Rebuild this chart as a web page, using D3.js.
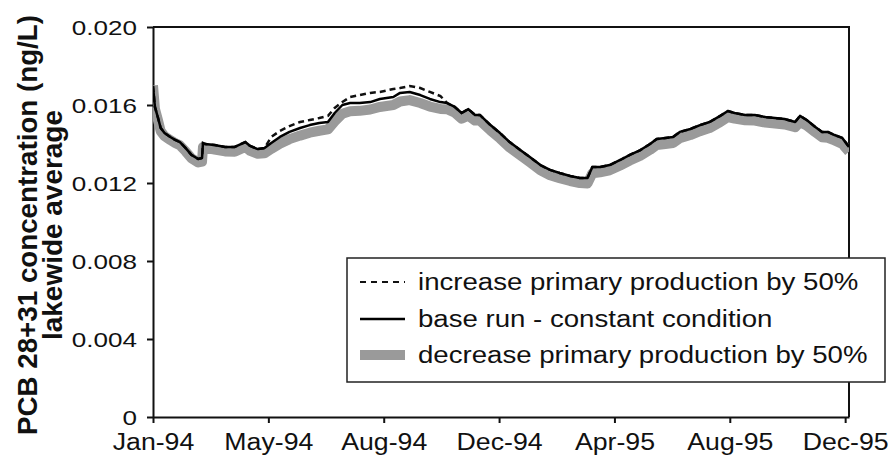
<!DOCTYPE html>
<html><head><meta charset="utf-8">
<script src="https://cdn.jsdelivr.net/npm/d3@7"></script>
<style>body{margin:0;background:#fff}svg{display:block}</style>
</head><body>
<svg id="c" width="888" height="462"></svg>
<script>
// Day offsets from 1 Jan 1994
const days = [0,2,5,8,12,18,23,28,34,40,47,51,52,54,64,75,85,96,101,109,116,123,132,142,153,163,173,182,189,197,205,215,226,236,250,257,267,278,288,299,306,314,321,328,335,340,351,361,371,382,392,403,413,423,434,444,452,457,465,475,486,496,507,517,524,533,541,548,559,569,579,590,598,605,616,626,637,647,657,668,673,680,689,696,702,709,717,724];
const baseRun = [0.01697,0.01590,0.01538,0.01482,0.01456,0.01436,0.01421,0.01410,0.01379,0.01344,0.01323,0.01328,0.01405,0.01400,0.01395,0.01385,0.01385,0.01410,0.01390,0.01374,0.01379,0.01405,0.01436,0.01462,0.01482,0.01497,0.01508,0.01513,0.01559,0.01600,0.01610,0.01610,0.01615,0.01631,0.01641,0.01662,0.01667,0.01651,0.01631,0.01615,0.01610,0.01590,0.01559,0.01579,0.01549,0.01549,0.01497,0.01456,0.01410,0.01369,0.01333,0.01292,0.01267,0.01251,0.01236,0.01226,0.01226,0.01282,0.01282,0.01292,0.01318,0.01344,0.01369,0.01400,0.01426,0.01431,0.01436,0.01462,0.01477,0.01497,0.01513,0.01544,0.01569,0.01559,0.01549,0.01549,0.01538,0.01533,0.01528,0.01513,0.01544,0.01523,0.01487,0.01462,0.01462,0.01446,0.01431,0.01385];
const increase = [0.01697,0.01590,0.01538,0.01482,0.01456,0.01436,0.01421,0.01410,0.01379,0.01344,0.01323,0.01328,0.01405,0.01400,0.01395,0.01385,0.01385,0.01410,0.01390,0.01374,0.01379,0.01436,0.01467,0.01492,0.01513,0.01523,0.01533,0.01544,0.01585,0.01615,0.01641,0.01651,0.01662,0.01667,0.01682,0.01687,0.01697,0.01687,0.01667,0.01646,0.01610,0.01590,0.01559,0.01579,0.01549,0.01549,0.01497,0.01456,0.01410,0.01369,0.01333,0.01292,0.01267,0.01251,0.01236,0.01226,0.01226,0.01282,0.01282,0.01292,0.01318,0.01344,0.01369,0.01400,0.01426,0.01431,0.01436,0.01462,0.01477,0.01497,0.01513,0.01544,0.01569,0.01559,0.01549,0.01549,0.01538,0.01533,0.01528,0.01513,0.01544,0.01523,0.01487,0.01462,0.01462,0.01446,0.01431,0.01385];
const decrease = [0.01700,0.01580,0.01525,0.01466,0.01440,0.01420,0.01405,0.01393,0.01362,0.01327,0.01305,0.01310,0.01385,0.01380,0.01372,0.01362,0.01360,0.01385,0.01365,0.01350,0.01352,0.01375,0.01402,0.01425,0.01443,0.01458,0.01468,0.01475,0.01515,0.01555,0.01568,0.01570,0.01577,0.01590,0.01600,0.01618,0.01625,0.01610,0.01592,0.01580,0.01578,0.01560,0.01530,0.01545,0.01520,0.01520,0.01470,0.01428,0.01382,0.01342,0.01306,0.01265,0.01240,0.01225,0.01210,0.01200,0.01198,0.01250,0.01255,0.01265,0.01290,0.01315,0.01340,0.01370,0.01395,0.01400,0.01405,0.01430,0.01446,0.01466,0.01482,0.01512,0.01538,0.01530,0.01522,0.01520,0.01510,0.01505,0.01500,0.01486,0.01512,0.01495,0.01460,0.01435,0.01432,0.01418,0.01400,0.01360];

const yTicks = [0, 0.004, 0.008, 0.012, 0.016, 0.020];
const yTickLabels = ["0", "0.004", "0.008", "0.012", "0.016", "0.020"];
const xTickDays = [0, 120, 240, 360, 480, 600, 720];
const xTickLabels = ["Jan-94", "May-94", "Aug-94", "Dec-94", "Apr-95", "Aug-95", "Dec-95"];
const seriesNames = ["increase primary production by 50%", "base run - constant condition", "decrease primary production by 50%"];
const titleLines = ["PCB 28+31 concentration (ng/L)", "lakewide average"];

const svg = d3.select("#c");
const L = 153, R = 849, T = 27, B = 417;
const x = d3.scaleLinear().domain([0, 724]).range([L, R]);
const y = d3.scaleLinear().domain([0, 0.02]).range([B, T]);
const FONT = "'Liberation Sans', Arial, sans-serif";

function stretch(sel, f) {
  sel.each(function() {
    const w = this.getComputedTextLength();
    this.setAttribute("textLength", (w * f).toFixed(1));
    this.setAttribute("lengthAdjust", "spacingAndGlyphs");
  });
}

svg.append("rect").attr("width", 888).attr("height", 462).attr("fill", "#fff");

// clip
svg.append("clipPath").attr("id", "clip").append("rect")
  .attr("x", L).attr("y", T - 5).attr("width", R - L).attr("height", B - T + 5);

// frame (top + right)
svg.append("path").attr("d", `M${L},${T}H${R}V${B}`).attr("fill", "none")
  .attr("stroke", "#111").attr("stroke-width", 2);

// Axes
const yAxis = svg.append("g").attr("transform", `translate(${L},0)`)
  .call(d3.axisLeft(y).tickValues(yTicks).tickFormat((d, i) => yTickLabels[i])
    .tickSize(6).tickSizeOuter(0).tickPadding(10));
const xAxis = svg.append("g").attr("transform", `translate(0,${B})`)
  .call(d3.axisBottom(x).tickValues(xTickDays).tickFormat((d, i) => xTickLabels[i])
    .tickSize(6).tickSizeOuter(0).tickPadding(10));
[yAxis, xAxis].forEach(a => {
  a.select(".domain").attr("stroke", "#111").attr("stroke-width", 2);
  a.selectAll(".tick line").attr("stroke", "#111").attr("stroke-width", 2);
  a.selectAll("text").attr("font-family", FONT).attr("fill", "#111");
});
yAxis.selectAll("text").attr("font-size", 21).attr("dy", "0.36em");
stretch(yAxis.selectAll("text"), 1.24);
xAxis.selectAll("text").attr("font-size", 23).attr("dy", "0.72em");
stretch(xAxis.selectAll("text"), 1.16);

// Lines
const line = d3.line().x((d, i) => x(days[i])).y(d => y(d));
const lg = svg.append("g").attr("clip-path", "url(#clip)");
lg.append("path").datum(decrease).attr("d", line).attr("fill", "none")
  .attr("stroke", "#9a9a9a").attr("stroke-width", 10).attr("stroke-linejoin", "round");
lg.append("path").datum(increase).attr("d", line).attr("fill", "none")
  .attr("stroke", "#111").attr("stroke-width", 2.5).attr("stroke-dasharray", "6,4");
lg.append("path").datum(baseRun).attr("d", line).attr("fill", "none")
  .attr("stroke", "#000").attr("stroke-width", 2.5).attr("stroke-linejoin", "round");

// Legend
const leg = svg.append("g");
leg.append("rect").attr("x", 347).attr("y", 258).attr("width", 538).attr("height", 124)
  .attr("fill", "#fff").attr("stroke", "#222").attr("stroke-width", 1.5);
const rowsY = [282, 319, 355];
const sx0 = 360, sx1 = 405;
leg.append("line").attr("x1", sx0).attr("x2", sx1).attr("y1", rowsY[0]).attr("y2", rowsY[0])
  .attr("stroke", "#111").attr("stroke-width", 2).attr("stroke-dasharray", "6,5");
leg.append("line").attr("x1", sx0).attr("x2", sx1).attr("y1", rowsY[1]).attr("y2", rowsY[1])
  .attr("stroke", "#000").attr("stroke-width", 2.5);
leg.append("line").attr("x1", sx0).attr("x2", sx1).attr("y1", rowsY[2]).attr("y2", rowsY[2])
  .attr("stroke", "#9a9a9a").attr("stroke-width", 10);
const lt = leg.selectAll("text.l").data(seriesNames).enter().append("text")
  .attr("x", 418).attr("y", (d, i) => rowsY[i] + 8)
  .attr("font-family", FONT).attr("font-size", 23).attr("fill", "#111").text(d => d);
stretch(lt, 1.2);

// Y title
const tg = svg.append("g").attr("transform", "translate(0,225)");
tg.append("text").attr("transform", "translate(37,0) rotate(-90)")
  .attr("text-anchor", "middle").attr("font-family", FONT).attr("font-weight", "bold")
  .attr("font-size", 28).attr("fill", "#111").attr("textLength", 420)
  .attr("lengthAdjust", "spacingAndGlyphs").text(titleLines[0]);
tg.append("text").attr("transform", "translate(62,0) rotate(-90)")
  .attr("text-anchor", "middle").attr("font-family", FONT).attr("font-weight", "bold")
  .attr("font-size", 28).attr("fill", "#111").attr("textLength", 230)
  .attr("lengthAdjust", "spacingAndGlyphs").text(titleLines[1]);
</script>
</body></html>
